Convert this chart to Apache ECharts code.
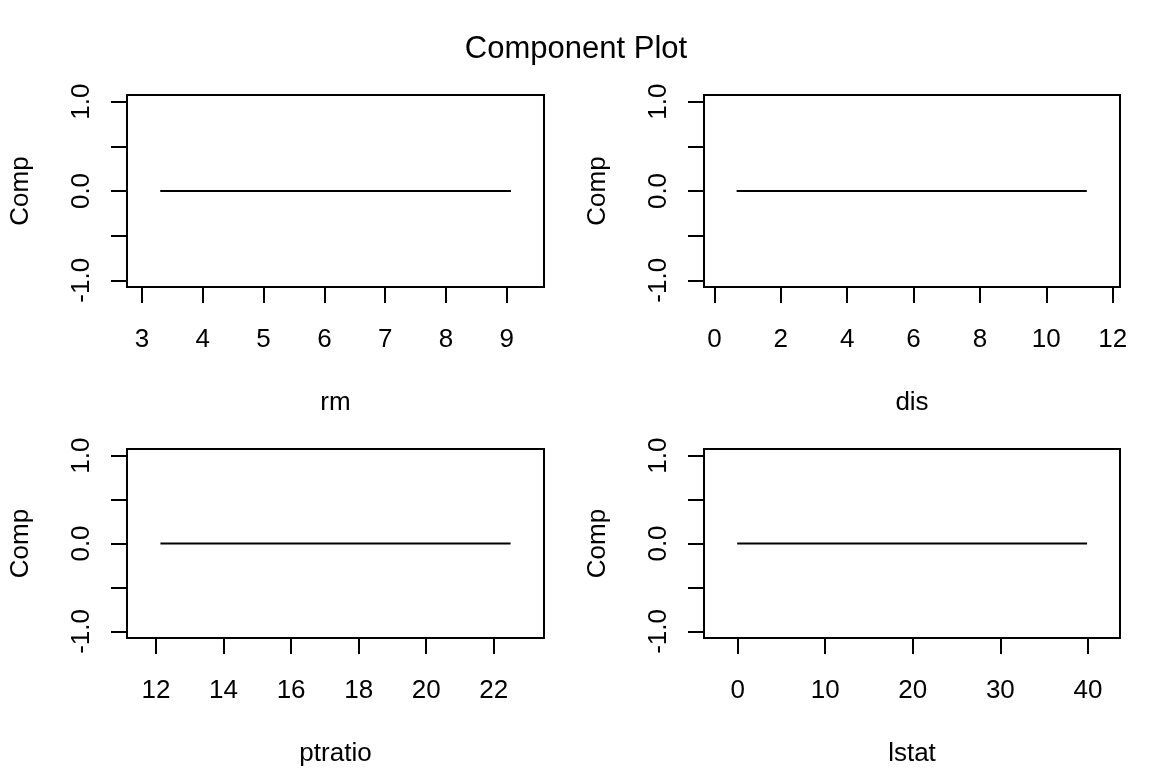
<!DOCTYPE html>
<html>
<head>
<meta charset="utf-8">
<title>Component Plot</title>
<script src="https://cdn.jsdelivr.net/npm/echarts@6/dist/echarts.min.js"></script>
<style>
  html, body { margin: 0; padding: 0; background: #fff; }
  #chart { width: 1152px; height: 768px; }
</style>
</head>
<body>
<div id="chart"></div>
<script>
// predictor names, one panel each
const predictors = ['rm', 'dis', 'ptratio', 'lstat']

// x tick labels per panel
const rmTicks = [3, 4, 5, 6, 7, 8, 9]
const disTicks = [0, 2, 4, 6, 8, 10, 12]
const ptratioTicks = [12, 14, 16, 18, 20, 22]
const lstatTicks = [0, 10, 20, 30, 40]

// axis ranges
const rmRange = [2.753, 9.613]
const disRange = [-0.313, 12.22]
const ptratioRange = [11.14, 23.49]
const lstatRange = [-3.84, 43.66]

// component line (x ends, component value)
const rmX = [3.30, 9.07]
const disX = [0.67, 11.22]
const ptratioX = [12.13, 22.50]
const lstatX = [-0.05, 39.9]
const compY = [0, 0]

// y ticks shared by every panel
const yTicks = [-1, -0.5, 0, 0.5, 1]
const yLabels = [-1, 0, 1]

const ticksList = [rmTicks, disTicks, ptratioTicks, lstatTicks]
const rangeList = [rmRange, disRange, ptratioRange, lstatRange]
const xList = [rmX, disX, ptratioX, lstatX]

const FONT = '"Liberation Sans", Arial, sans-serif'
const boxes = [
  { left: 127, top: 95, width: 417, height: 192 },
  { left: 704, top: 95, width: 416, height: 192 },
  { left: 127, top: 449, width: 417, height: 192 },
  { left: 704, top: 449, width: 416, height: 192 }
]

const chart = echarts.init(document.getElementById('chart'))
chart.setOption({
  animation: false,
  backgroundColor: '#fff',
  title: {
    text: 'Component Plot',
    left: 'center',
    top: 29,
    textStyle: { color: '#000', fontSize: 31, fontWeight: 'normal', fontFamily: FONT }
  },
  grid: boxes.map(b => ({
    ...b,
    show: true,
    borderColor: '#000',
    borderWidth: 2,
    backgroundColor: 'transparent'
  })),
  xAxis: predictors.map((name, i) => ({
    type: 'value',
    gridIndex: i,
    position: 'bottom',
    min: rangeList[i][0],
    max: rangeList[i][1],
    name: name,
    nameLocation: 'middle',
    nameGap: 103,
    nameTextStyle: { color: '#000', fontSize: 26, fontFamily: FONT },
    axisLine: { show: false, onZero: false },
    splitLine: { show: false },
    axisTick: {
      show: true,
      inside: false,
      length: 16,
      customValues: ticksList[i],
      lineStyle: { color: '#000', width: 2 }
    },
    axisLabel: {
      customValues: ticksList[i],
      margin: 40,
      color: '#000',
      fontSize: 26,
      fontFamily: FONT,
      formatter: v => String(v)
    }
  })),
  yAxis: predictors.map((name, i) => ({
    type: 'value',
    gridIndex: i,
    position: 'left',
    min: -1.075,
    max: 1.075,
    name: 'Comp',
    nameLocation: 'middle',
    nameRotate: 90,
    nameGap: 93,
    nameTextStyle: { color: '#000', fontSize: 26, fontFamily: FONT },
    axisLine: { show: false, onZero: false },
    splitLine: { show: false },
    axisTick: {
      show: true,
      inside: false,
      length: 16,
      customValues: yTicks,
      lineStyle: { color: '#000', width: 2 }
    },
    axisLabel: {
      customValues: yLabels,
      rotate: 90,
      margin: 32,
      color: '#000',
      fontSize: 26,
      fontFamily: FONT,
      formatter: v => v.toFixed(1)
    }
  })),
  series: predictors.map((name, i) => ({
    type: 'line',
    name: name,
    xAxisIndex: i,
    yAxisIndex: i,
    symbol: 'none',
    silent: true,
    lineStyle: { color: '#000', width: 2 },
    data: xList[i].map((x, k) => [x, compY[k]])
  }))
})
</script>
</body>
</html>
